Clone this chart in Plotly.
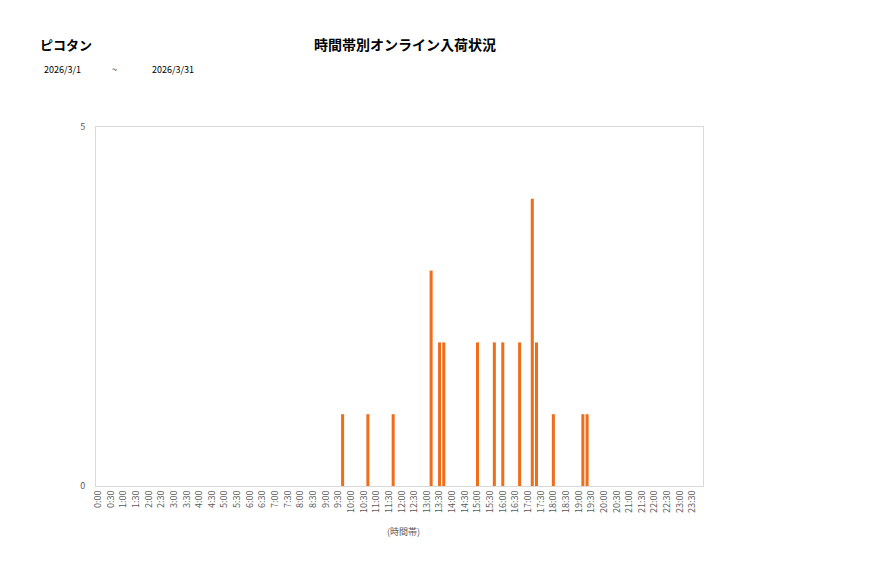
import plotly.graph_objects as go

# arrival slots (10-minute bins) and counts
times = ["9:40", "10:40", "11:40", "13:10", "13:30", "13:40", "15:00", "15:40",
         "16:00", "16:40", "17:10", "17:20", "18:00", "19:10", "19:20"]
counts = [1, 1, 1, 3, 2, 2, 2, 2, 2, 2, 4, 2, 1, 1, 1]

tick_labels = ["0:00", "0:30", "1:00", "1:30", "2:00", "2:30", "3:00", "3:30",
               "4:00", "4:30", "5:00", "5:30", "6:00", "6:30", "7:00", "7:30",
               "8:00", "8:30", "9:00", "9:30", "10:00", "10:30", "11:00", "11:30",
               "12:00", "12:30", "13:00", "13:30", "14:00", "14:30", "15:00", "15:30",
               "16:00", "16:30", "17:00", "17:30", "18:00", "18:30", "19:00", "19:30",
               "20:00", "20:30", "21:00", "21:30", "22:00", "22:30", "23:00", "23:30"]


def slot(t):
    h, m = t.split(":")
    return (int(h) * 60 + int(m)) / 10


font = "Noto Sans CJK JP"
gray = "#595959"

fig = go.Figure(go.Bar(
    x=[slot(t) for t in times],
    y=counts,
    width=0.72,
    marker=dict(color="#EF6E1C", line=dict(width=0)),
))

fig.update_layout(
    width=877, height=578,
    margin=dict(l=88, r=182, t=119, b=100),
    paper_bgcolor="white", plot_bgcolor="white",
    font=dict(family=font, color=gray, size=9),
    showlegend=False,
    xaxis=dict(
        range=[-0.5, 143.5],
        tickvals=[slot(t) for t in tick_labels],
        ticktext=tick_labels,
        tickangle=-90,
        showgrid=False, zeroline=False,
        showline=True, linecolor="#d9d9d9", linewidth=1, mirror=True,
        ticks="", tickfont=dict(size=9, color=gray),
    ),
    yaxis=dict(
        range=[0, 5], tickvals=[0, 5],
        showgrid=False, zeroline=False,
        showline=True, linecolor="#d9d9d9", linewidth=1, mirror=True,
        ticks="", ticklabelstandoff=8, tickfont=dict(size=9, color=gray),
    ),
    annotations=[
        dict(text="<b>ピコタン</b>", x=-0.0956, y=1.231, xref="paper", yref="paper",
             xanchor="left", yanchor="middle", showarrow=False,
             font=dict(size=13, color="#000000")),
        dict(text="<b>時間帯別オンライン入荷状況</b>", x=0.509, y=1.231, xref="paper", yref="paper",
             xanchor="center", yanchor="middle", showarrow=False,
             font=dict(size=14, color="#000000")),
        dict(text="2026/3/1", x=-0.089, y=1.159, xref="paper", yref="paper",
             xanchor="left", yanchor="middle", showarrow=False,
             font=dict(size=9, color="#000000")),
        dict(text="~", x=0.031, y=1.159, xref="paper", yref="paper",
             xanchor="center", yanchor="middle", showarrow=False,
             font=dict(size=9, color="#000000")),
        dict(text="2026/3/31", x=0.089, y=1.159, xref="paper", yref="paper",
             xanchor="left", yanchor="middle", showarrow=False,
             font=dict(size=9, color="#000000")),
        dict(text="(時間帯)", x=0.507, y=-0.128, xref="paper", yref="paper",
             xanchor="center", yanchor="middle", showarrow=False,
             font=dict(size=9, color=gray)),
    ],
)

fig.write_html("out.html")
